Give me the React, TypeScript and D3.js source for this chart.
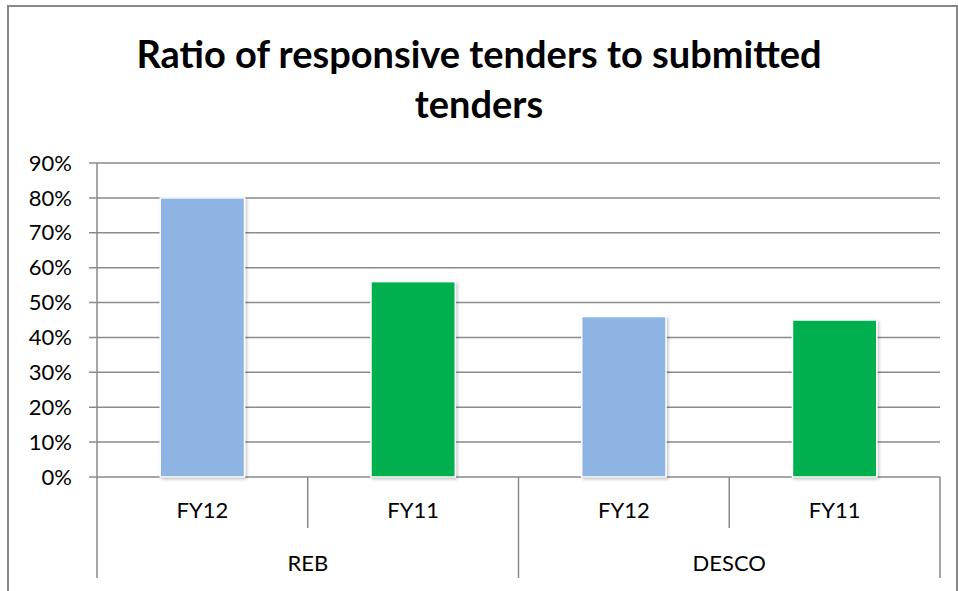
import React from "react";
import * as d3 from "d3";

const groups = ["REB", "DESCO"];
const years = ["FY12", "FY11"];
const values = [80, 56, 46, 45];
const barColors = ["#8EB4E3", "#00B050", "#8EB4E3", "#00B050"];
const yTicks = [0, 10, 20, 30, 40, 50, 60, 70, 80, 90];
const titleLines = ["Ratio of responsive tenders to submitted", "tenders"];

export default function App() {
  const W = 958, H = 591;
  const left = 97, right = 940, top = 163, bottom = 477;
  const y = d3.scaleLinear().domain([0, 90]).range([bottom, top]);
  const cats = groups.flatMap((g) => years.map((yr) => `${g}-${yr}`));
  const x = d3.scaleBand().domain(cats).range([left, right]).paddingInner(0).paddingOuter(0);
  const bw = x.bandwidth();
  const barW = bw * 0.4;
  const grid = "#8a8a8a";
  const font = "Lato, 'Open Sans', sans-serif";

  return (
    <svg width={W} height={H} style={{ position: "absolute", left: 0, top: 0 }}>
      <defs>
        <filter id="sh" x="-20%" y="-20%" width="140%" height="140%">
          <feDropShadow dx="1.5" dy="1.5" stdDeviation="1.5" floodColor="#000" floodOpacity="0.25" />
        </filter>
      </defs>
      <rect x={0} y={0} width={W} height={H} fill="#fff" />
      <rect x={8} y={6} width={949} height={600} fill="none" stroke="#888" strokeWidth={2} />
      {titleLines.map((t, i) => (
        <text key={i} x={479} y={68 + i * 50} textAnchor="middle" fontFamily={font} fontWeight="bold" fontSize={38} fill="#000">
          {t}
        </text>
      ))}
      {yTicks.map((t) => (
        <g key={t}>
          <line x1={89} x2={right} y1={y(t)} y2={y(t)} stroke={grid} strokeWidth={1.5} />
          <text x={72} y={y(t)} dy="0.35em" textAnchor="end" fontFamily={font} fontSize={22} fill="#000">
            {t}%
          </text>
        </g>
      ))}
      <line x1={left} x2={left} y1={top} y2={578} stroke={grid} strokeWidth={1.5} />
      {cats.map((c, i) => (
        <rect
          key={c}
          x={(x(c) as number) + (bw - barW) / 2}
          y={y(values[i])}
          width={barW}
          height={bottom - y(values[i])}
          fill={barColors[i]}
          stroke="#fff"
          strokeWidth={1.5}
          filter="url(#sh)"
        />
      ))}
      {cats.map((c, i) => {
        const xr = (x(c) as number) + bw;
        const long = i % 2 === 1;
        return <line key={"t" + c} x1={xr} x2={xr} y1={bottom} y2={long ? 578 : 528} stroke={grid} strokeWidth={1.5} />;
      })}
      {cats.map((c, i) => (
        <text key={"l" + c} x={(x(c) as number) + bw / 2} y={518} textAnchor="middle" fontFamily={font} fontSize={22} fill="#000">
          {years[i % 2]}
        </text>
      ))}
      {groups.map((g) => {
        const x0 = x(`${g}-${years[0]}`) as number;
        return (
          <text key={g} x={x0 + bw} y={571} textAnchor="middle" fontFamily={font} fontSize={22} fill="#000">
            {g}
          </text>
        );
      })}
    </svg>
  );
}
